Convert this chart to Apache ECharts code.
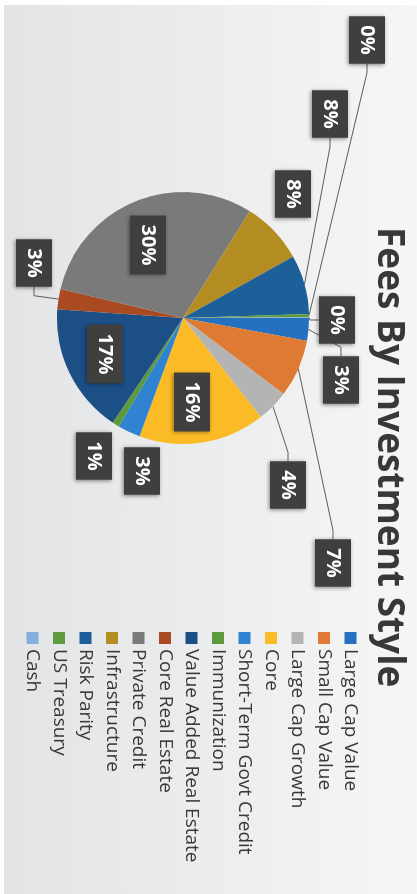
<!DOCTYPE html>
<html>
<head>
<meta charset="utf-8">
<script src="https://cdn.jsdelivr.net/npm/echarts@6/dist/echarts.min.js"></script>
<style>
  html, body { margin: 0; padding: 0; background: #ffffff; overflow: hidden; }
  /* the slide is laid out landscape and turned a quarter clockwise */
  #slide {
    position: absolute; left: 0; top: 0;
    width: 894px; height: 417px;
    transform-origin: 0 0;
    transform: translate(417px, 0) rotate(90deg);
    background: #ffffff;
  }
  #paper {
    position: absolute; left: 5px; top: 0; right: 0; bottom: 4px;
    background: linear-gradient(to top, #e2e4e5 0%, #ebeced 45%, #f6f6f6 100%);
  }
  #chart { position: absolute; left: 0; top: 0; width: 894px; height: 417px; }
</style>
</head>
<body>
<div id="slide">
  <div id="paper"></div>
  <div id="chart"></div>
</div>
<script>
// Investment styles, in the order they run clockwise round the pie
const categories = [
  'Large Cap Value', 'Small Cap Value', 'Large Cap Growth', 'Core',
  'Short-Term Govt Credit', 'Immunization', 'Value Added Real Estate',
  'Core Real Estate', 'Private Credit', 'Infrastructure', 'Risk Parity',
  'US Treasury', 'Cash'
];
// Share of total fees, in percent
const feeShares = [2.9, 7.4, 4.1, 16.2, 2.9, 0.9, 16.7, 2.6, 30.2, 8.0, 7.6, 0.4, 0.1];

const sliceColors = [
  '#2471bf', '#df7a35', '#b4b4b4', '#fbbb26', '#2f83d1', '#5d9a3b', '#1b4f86',
  '#a94a20', '#7a7a7a', '#b38d22', '#1d5f99', '#5d9b3c', '#86aedb'
];

// Where each value box sits (centre, in chart pixels)
const labelSpots = [
  [380, 76], [563, 84], [485, 129], [402, 225], [471, 275], [456, 323], [354, 312],
  [263, 383], [245, 269], [194, 124], [114, 87], [40, 50], [320, 80]
];
const insideIdx = [3, 6, 8];          // boxes drawn on top of their slice
const noLineIdx = [4, 5, 9];          // boxes close enough to need no leader

const chart = echarts.init(document.getElementById('chart'), null, { renderer: 'canvas' });

const data = categories.map((name, i) => {
  const item = { name: name, value: feeShares[i], itemStyle: { color: sliceColors[i] } };
  if (insideIdx.includes(i)) {
    item.label = { position: 'inside' };
    item.labelLine = { show: false };
  } else if (noLineIdx.includes(i)) {
    item.labelLine = { show: false };
  }
  return item;
});

// leader line: from the slice rim (mid-angle point given by the pie layout)
// to the nearest side of the box, with a short straight stub at the box
function leaderFor(rim, cx, cy, w, h) {
  const stub = 9;
  const sides = [
    [cx - w / 2, cy, -1, 0],
    [cx + w / 2, cy, 1, 0],
    [cx, cy - h / 2, 0, -1],
    [cx, cy + h / 2, 0, 1]
  ];
  let best = null, bestD = Infinity;
  sides.forEach(s => {
    const ex = s[0] + s[2] * stub, ey = s[1] + s[3] * stub;
    const d = Math.hypot(rim[0] - ex, rim[1] - ey);
    if (d < bestD) { bestD = d; best = [[rim[0], rim[1]], [ex, ey], [s[0], s[1]]]; }
  });
  return best;
}

chart.setOption({
  animation: false,
  title: {
    text: 'Fees By Investment Style',
    left: 222,
    top: 5,
    textStyle: {
      fontFamily: 'Open Sans',
      fontWeight: 'bold',
      fontSize: 37,
      color: '#383838'
    }
  },
  legend: {
    orient: 'vertical',
    left: 627,
    top: 52,
    itemWidth: 12,
    itemHeight: 12,
    itemGap: 7.5,
    icon: 'rect',
    selectedMode: false,
    data: categories,
    textStyle: {
      fontFamily: 'Open Sans',
      fontSize: 19,
      lineHeight: 19,
      color: '#383838'
    }
  },
  series: [{
    type: 'pie',
    center: [318, 234],
    radius: 126,
    startAngle: 90,
    clockwise: true,
    avoidLabelOverlap: false,
    data: data,
    label: {
      show: true,
      position: 'outside',
      formatter: p => Math.round(p.value) + '%',
      fontFamily: 'Open Sans',
      fontWeight: 'bold',
      fontSize: 20,
      lineHeight: 20,
      color: '#ffffff',
      backgroundColor: '#3f3f3e',
      padding: [8, 9],
      shadowColor: 'rgba(0,0,0,0.45)',
      shadowBlur: 4,
      shadowOffsetX: 1,
      shadowOffsetY: 1
    },
    labelLine: {
      show: true,
      length: 10,
      length2: 10,
      lineStyle: { color: '#5a5a5a', width: 1 }
    },
    labelLayout: function (params) {
      const i = params.dataIndex;
      const spot = labelSpots[i];
      const out = { x: spot[0], y: spot[1], align: 'center', verticalAlign: 'middle' };
      if (!insideIdx.includes(i) && !noLineIdx.includes(i) && params.labelLinePoints) {
        const w = params.labelRect.width, h = params.labelRect.height;
        out.labelLinePoints = leaderFor(params.labelLinePoints[0], spot[0], spot[1], w, h);
      }
      return out;
    }
  }]
});
</script>
</body>
</html>
